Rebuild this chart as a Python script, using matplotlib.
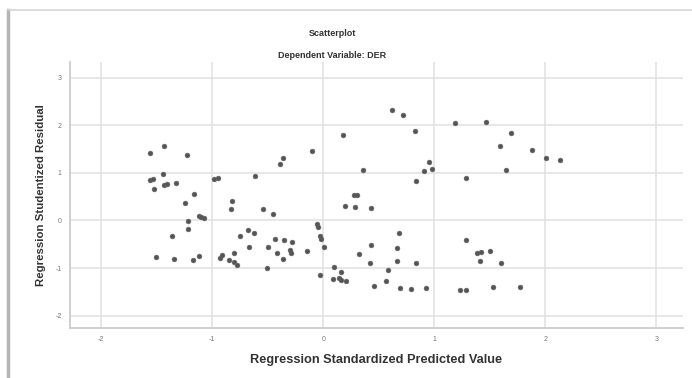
import matplotlib
matplotlib.use("Agg")
import matplotlib.pyplot as plt
from matplotlib.lines import Line2D

plt.rcParams['font.family'] = ['Liberation Sans', 'DejaVu Sans']

title = "Scatterplot"
subtitle = "Dependent Variable: DER"
xlabel = "Regression Standardized Predicted Value"
ylabel = "Regression Studentized Residual"
xticks = [-2, -1, 0, 1, 2, 3]
yticks = [-2, -1, 0, 1, 2, 3]

pred = [
    -1.435, -1.556, -1.228, -1.439, -1.56, -1.53, -1.525, -1.435, -1.41, -1.324, -1.159, -1.243,
    -0.98, -0.95, -0.82, -0.829, -0.613, -0.543, -1.219, -1.12, -1.10, -1.07,
    0.177, -0.099, -0.363, -0.385, 0.36, 0.28, 0.30, 0.20, 0.288, 0.432, -0.453,
    0.619, 0.72, 0.823, 1.19, 1.463, 1.69, 1.59, 1.877, 2.01, 2.13, 0.955, 0.91, 0.982, 0.84, 1.288, 1.645,
    -1.22, -1.36, -1.505, -1.345, -1.171, -1.114, -0.925, -0.913, -0.805, -0.844, -0.805, -0.775,
    -0.745, -0.673, -0.624, -0.67,
    -0.432, -0.349, -0.279, -0.493, -0.414, -0.295, -0.29, -0.36, -0.15, -0.51,
    -0.054, -0.045, -0.033, -0.024, 0.009, -0.033, 0.096, 0.156, 0.087, 0.138, 0.162, 0.207,
    0.318, 0.432, 0.42, 0.457,
    0.687, 0.667, 0.667, 0.838, 0.583, 0.568, 0.696, 0.793, 0.928,
    1.288, 1.387, 1.417, 1.498, 1.414, 1.604, 1.228, 1.283, 1.53, 1.768,
]
resid = [
    1.57, 1.42, 1.38, 0.97, 0.86, 0.87, 0.67, 0.74, 0.77, 0.79, 0.55, 0.36,
    0.88, 0.90, 0.41, 0.24, 0.93, 0.25, -0.01, 0.09, 0.07, 0.06,
    1.80, 1.46, 1.31, 1.19, 1.05, 0.53, 0.53, 0.30, 0.29, 0.26, 0.14,
    2.32, 2.21, 1.89, 2.04, 2.06, 1.83, 1.57, 1.48, 1.31, 1.28, 1.22, 1.03, 1.09, 0.83, 0.89, 1.05,
    -0.19, -0.32, -0.76, -0.81, -0.84, -0.74, -0.79, -0.73, -0.69, -0.84, -0.88, -0.93,
    -0.32, -0.21, -0.26, -0.55,
    -0.40, -0.42, -0.46, -0.55, -0.69, -0.62, -0.68, -0.81, -0.65, -1.00,
    -0.07, -0.14, -0.32, -0.39, -0.56, -1.14, -0.97, -1.09, -1.23, -1.21, -1.25, -1.27,
    -0.70, -0.51, -0.90, -1.37,
    -0.26, -0.57, -0.85, -0.89, -1.04, -1.27, -1.41, -1.45, -1.42,
    -0.41, -0.68, -0.67, -0.65, -0.85, -0.89, -1.47, -1.47, -1.40, -1.39,
]

fig = plt.figure(figsize=(6.92, 3.78), dpi=100)
fig.patch.set_facecolor('white')
ax = fig.add_axes([70 / 692, 1 - 328 / 378, (683 - 70) / 692, (328 - 62) / 378])

ax.scatter(pred, resid, s=12, color='#555555', edgecolors='#666666', linewidths=0.4, zorder=3)

ax.set_xlim(-2.28, 3.24)
ax.set_ylim(-2.26, 3.33)
ax.set_xticks(xticks)
ax.set_yticks(yticks)
ax.set_xticklabels([str(t) for t in xticks], fontsize=5, color='#777777')
ax.set_yticklabels([str(t) for t in yticks], fontsize=5, color='#777777')
ax.tick_params(length=0, pad=6)
ax.grid(True, color='#e0e0e0', linewidth=1.1, zorder=0)
ax.set_axisbelow(True)
for side in ['top', 'right']:
    ax.spines[side].set_visible(False)
for side in ['left', 'bottom']:
    ax.spines[side].set_color('#cccccc')
    ax.spines[side].set_linewidth(1.3)

ax.set_xlabel(xlabel, fontsize=9.2, fontweight='bold', color='#333333', labelpad=8)
ax.set_ylabel(ylabel, fontsize=8.2, fontweight='bold', color='#333333', labelpad=7)

fig.text(332 / 692, 1 - 33 / 378, title, ha='center', va='center', fontsize=6.5,
         fontweight='bold', color='#333333')
fig.text(332 / 692, 1 - 55 / 378, subtitle, ha='center', va='center', fontsize=6.5,
         fontweight='bold', color='#333333')

# outer frame lines of the screenshot
fig.add_artist(Line2D([8 / 692, 8 / 692], [0, 1 - 10 / 378], color='#b5b5b5', linewidth=2.5,
                      transform=fig.transFigure))
fig.add_artist(Line2D([8 / 692, 1], [1 - 10 / 378, 1 - 10 / 378], color='#d5d5d5', linewidth=1.2,
                      transform=fig.transFigure))

fig.savefig('out.png', dpi=100, facecolor='white')
